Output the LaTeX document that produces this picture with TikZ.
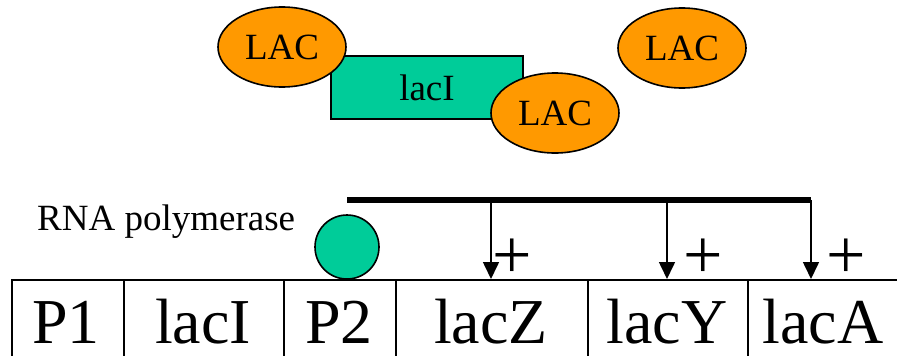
\documentclass[tikz,border=0pt]{standalone}
\usepackage{fontspec}
\setmainfont{Liberation Serif}
\usetikzlibrary{arrows.meta,shapes.geometric}
\definecolor{lacorange}{RGB}{255,153,0}
\definecolor{lacteal}{RGB}{0,204,153}
\begin{document}
\begin{tikzpicture}[x=1pt,y=-1pt,
  lac/.style={ellipse,draw=black,line width=1.6pt,fill=lacorange,minimum width=128pt,minimum height=80pt,inner sep=0pt,font=\fontsize{37}{37}\selectfont},
  repressor/.style={rectangle,draw=black,line width=1.6pt,fill=lacteal,minimum width=192pt,minimum height=63pt,inner sep=0pt,font=\fontsize{37}{37}\selectfont},
  cell/.style={rectangle,draw=black,line width=1.6pt,minimum height=96pt,inner sep=0pt,anchor=north west},
  celltext/.style={font=\fontsize{64}{64}\selectfont,anchor=base,inner sep=0pt},
  activ/.style={line width=1.6pt,-{Triangle[width=16pt,length=17pt]}},
  plus/.style={font=\fontsize{70}{70}\selectfont,inner sep=0pt}
]
\useasboundingbox (0,0) rectangle (897,356);
% top: repressor with inducers
\node[repressor] (rep) at (427,87.5) {lacI};
\node[lac] (lac1) at (282,47) {LAC};
\node[lac] (lac2) at (555,113) {LAC};
\node[lac] (lac3) at (682,48) {LAC};
% operon cells
\node[cell,minimum width=112pt] (p1) at (11,279) {};
\node[cell,minimum width=160pt] (laci) at (123,279) {};
\node[cell,minimum width=112pt] (p2) at (283,279) {};
\node[cell,minimum width=192pt] (lacz) at (395,279) {};
\node[cell,minimum width=160pt] (lacy) at (587,279) {};
\node[cell,minimum width=153pt] (laca) at (747,279) {};
\node[celltext] (tp1) at (66,343) {P1};
\node[celltext] (tlaci) at (203,343) {lacI};
\node[celltext] (tp2) at (339,343) {P2};
\node[celltext] (tlacz) at (491,343) {lacZ};
\node[celltext] (tlacy) at (667,343) {lacY};
\node[celltext] (tlaca) at (823,343) {lacA};
% RNA polymerase
\node[circle,draw=black,line width=1.6pt,fill=lacteal,minimum size=64pt,inner sep=0pt] (pol) at (347,247) {};
\node[font=\fontsize{37}{37}\selectfont,anchor=base west,inner sep=0pt] (poltext) at (37,230) {RNA polymerase};
% transcript bar and arrows
\coordinate (b0) at (347,200);
\coordinate (b1) at (491,200);
\coordinate (b2) at (667,200);
\coordinate (b3) at (811,200);
\draw[line width=5.5pt] (b0) -- (b3);
\draw[activ] (b1) -- (b1 |- lacz.north);
\draw[activ] (b2) -- (b2 |- lacy.north);
\draw[activ] (b3) -- (b3 |- laca.north);
\node[plus] (pl1) at (512,259) {+};
\node[plus] (pl2) at (703,259) {+};
\node[plus] (pl3) at (846,259) {+};
\end{tikzpicture}
\end{document}
